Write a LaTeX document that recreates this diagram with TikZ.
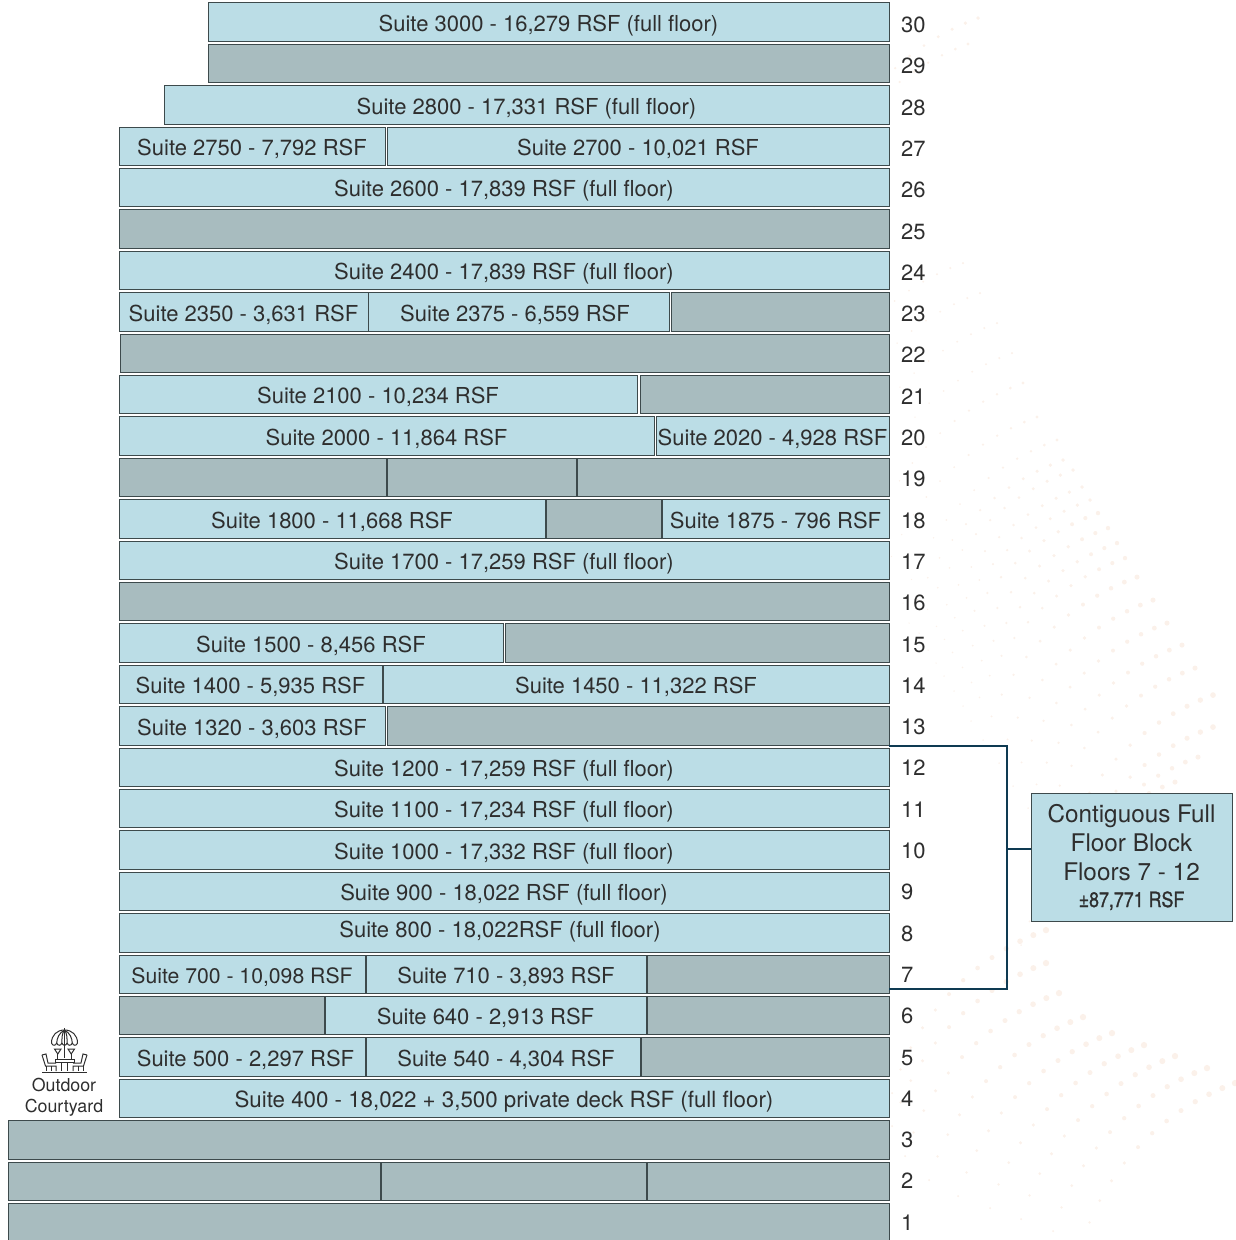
\documentclass[tikz,border=0pt]{standalone}
\usepackage{fontspec}
\setmainfont{TeX Gyre Heros}
\newfontfamily\condfont[FakeStretch=.85,FakeBold=1.2]{TeX Gyre Heros}
\usepackage{tikz}
\usetikzlibrary{positioning, calc}
\definecolor{suiteblue}{HTML}{BBDDE6}
\definecolor{floorgrey}{HTML}{A8BCBF}
\definecolor{edgegrey}{HTML}{3D4A4C}
\definecolor{inkgrey}{HTML}{2E2E2E}
\definecolor{navyline}{HTML}{0E3A52}
\definecolor{dotpeach}{HTML}{FBF1EA}
\tikzset{
  floorbox/.style={rectangle, draw=edgegrey, line width=.8pt, outer sep=0pt, inner sep=0pt,
    minimum height=38.5pt, text=inkgrey, font=\fontsize{22}{26}\selectfont, text height=18.5pt, text depth=0pt},
  suite/.style={floorbox, fill=suiteblue},
  vacant/.style={floorbox, fill=floorgrey},
  suitetext/.style={inner sep=0pt, text=inkgrey, font=\fontsize{22}{26}\selectfont, text height=18.5pt, text depth=0pt},
  flrnum/.style={anchor=west, inner sep=0pt, text=inkgrey, font=\fontsize{22}{26}\selectfont, text height=17pt, text depth=0pt},
  bracketline/.style={draw=navyline, line width=2.9pt},
  iconline/.style={draw=inkgrey, line width=1pt},
  bgdot/.style={fill=dotpeach}
}
% name, left, right, floor, style, text
\newcommand{\suitebox}[6]{%
  \pgfmathsetmacro\boxcx{(#2+#3)/2}%
  \pgfmathsetmacro\boxw{#3-#2}%
  \pgfmathsetmacro\boxcy{22+(30-#4)*41.4}%
  \node[#5, minimum width=\boxw pt] (#1) at (\boxcx,\boxcy) {#6};%
}
\begin{document}
\begin{tikzpicture}[x=1pt, y=-1pt]
\useasboundingbox (0,0) rectangle (1236,1240);
% faint dots behind everything
\begin{scope}
\clip (0,0) rectangle (1236,1240);
\foreach \ex/\ey/\s in {1046/930/1, 1046/963/1, 1059/993/1, 1083/1017/1, 1112/1033/1, 1144/1045/1, 1175/1056/1, 1207/1068/1, 1235/1083/1,
    1213/727/.9, 1198/757/.8, 1175/782/.8, 1213/695/.9, 1195/668/.8, 1182/645/.8, 1167/623/.8, 1153/600/.8, 1137/577/.8,
    1125/558/.7, 1117/543/.7, 1108/528/.7, 1098/513/.7, 1090/500/.6, 1082/487/.6, 1073/470/.6, 1063/460/.6, 1057/440/.5,
    1037/417/.5, 1023/383/.5, 1012/353/.4, 997/323/.4, 980/293/.4, 963/263/.4, 978/18/.6, 968/44/.5}{
  \foreach \i in {0,...,12}{
    \pgfmathsetmacro\ang{20+\i*3+\i*\i*.12}
    \pgfmathsetmacro\px{\ex+85.5-250*sin(\ang)}
    \pgfmathsetmacro\py{\ey+235-250*cos(\ang)}
    \pgfmathsetmacro\rr{\s*(3.2-\i*.17)}
    \fill[bgdot] (\px,\py) circle (\rr);
  }
}
\end{scope}
% floors
\suitebox{f30}{208}{889}{30}{suite}{Suite 3000 - 16,279 RSF (full floor)}
\suitebox{f29}{208}{889}{29}{vacant}{}
\suitebox{f28}{164}{889}{28}{suite}{Suite 2800 - 17,331 RSF (full floor)}
\suitebox{f27a}{119}{385}{27}{suite}{Suite 2750 - 7,792 RSF}
\suitebox{f27b}{387}{889}{27}{suite}{Suite 2700 - 10,021 RSF}
\suitebox{f26}{119}{889}{26}{suite}{Suite 2600 - 17,839 RSF (full floor)}
\suitebox{f25}{119}{889}{25}{vacant}{}
\suitebox{f24}{119}{889}{24}{suite}{Suite 2400 - 17,839 RSF (full floor)}
\suitebox{f23b}{368}{669}{23}{suite}{}
\suitebox{f23a}{119}{368}{23}{suite}{Suite 2350 - 3,631 RSF}
\suitebox{f23c}{671}{889}{23}{vacant}{}
\node[suitetext] (t2375) at (515,312) {Suite 2375 - 6,559 RSF};
\suitebox{f22}{120}{889}{22}{vacant}{}
\suitebox{f21a}{119}{637}{21}{suite}{Suite 2100 - 10,234 RSF}
\suitebox{f21b}{640}{889}{21}{vacant}{}
\suitebox{f20a}{119}{654}{20}{suite}{Suite 2000 - 11,864 RSF}
\suitebox{f20b}{656}{889}{20}{suite}{Suite 2020 - 4,928 RSF}
\suitebox{f19a}{119}{386}{19}{vacant}{}
\suitebox{f19b}{387}{576}{19}{vacant}{}
\suitebox{f19c}{577}{889}{19}{vacant}{}
\suitebox{f18a}{119}{545}{18}{suite}{Suite 1800 - 11,668 RSF}
\suitebox{f18b}{546}{661}{18}{vacant}{}
\suitebox{f18c}{662}{889}{18}{suite}{Suite 1875 - 796 RSF}
\suitebox{f17}{119}{889}{17}{suite}{Suite 1700 - 17,259 RSF (full floor)}
\suitebox{f16}{119}{889}{16}{vacant}{}
\suitebox{f15a}{119}{503}{15}{suite}{Suite 1500 - 8,456 RSF}
\suitebox{f15b}{505}{889}{15}{vacant}{}
\suitebox{f14a}{119}{382}{14}{suite}{Suite 1400 - 5,935 RSF}
\suitebox{f14b}{383}{889}{14}{suite}{Suite 1450 - 11,322 RSF}
\suitebox{f13a}{119}{385}{13}{suite}{Suite 1320 - 3,603 RSF}
\suitebox{f13b}{387}{889}{13}{vacant}{}
\suitebox{f12}{119}{889}{12}{suite}{Suite 1200 - 17,259 RSF (full floor)}
\suitebox{f11}{119}{889}{11}{suite}{Suite 1100 - 17,234 RSF (full floor)}
\suitebox{f10}{119}{889}{10}{suite}{Suite 1000 - 17,332 RSF (full floor)}
\suitebox{f9}{119}{889}{9}{suite}{Suite 900 - 18,022 RSF (full floor)}
\suitebox{f8}{119}{889}{8}{suite}{}
\node[suitetext] (t800) at (500,928) {Suite 800 - 18,022RSF (full floor)};
\suitebox{f7a}{119}{365}{7}{suite}{\fontsize{21.2}{26}\selectfont Suite 700 - 10,098 RSF}
\suitebox{f7b}{366}{646}{7}{suite}{Suite 710 - 3,893 RSF}
\suitebox{f7c}{647}{889}{7}{vacant}{}
\suitebox{f6a}{119}{324}{6}{vacant}{}
\suitebox{f6b}{325}{646}{6}{suite}{Suite 640 - 2,913 RSF}
\suitebox{f6c}{647}{889}{6}{vacant}{}
\suitebox{f5a}{119}{365}{5}{suite}{}
\suitebox{f5b}{366}{640}{5}{suite}{}
\suitebox{f5c}{641}{889}{5}{vacant}{}
\node[suitetext] (t500) at (245.5,1057) {Suite 500 - 2,297 RSF};
\node[suitetext] (t540) at (506,1057) {Suite 540 - 4,304 RSF};
\suitebox{f4}{119}{889}{4}{suite}{\fontsize{22.3}{26}\selectfont Suite 400 - 18,022 + 3,500 private deck RSF (full floor)}
\suitebox{f3}{8}{889}{3}{vacant}{}
\suitebox{f2a}{8}{380}{2}{vacant}{}
\suitebox{f2b}{381}{646}{2}{vacant}{}
\suitebox{f2c}{647}{889}{2}{vacant}{}
\suitebox{f1}{8}{889}{1}{vacant}{}
% floor numbers
\foreach \n in {1,...,30}{
  \pgfmathsetmacro\ny{24+(30-\n)*41.3}
  \node[flrnum] (n\n) at (901,\ny) {\n};
}
% block callout
\node[rectangle, draw=edgegrey, fill=suiteblue, line width=.8pt, outer sep=0pt, minimum width=201pt, minimum height=128pt,
  align=center, text=inkgrey, font=\fontsize{24.3}{29}\selectfont] (block) at (1131.5,857)
  {Contiguous Full\\Floor Block\\Floors 7 - 12\\[-2pt]{\condfont\fontsize{21}{26}\selectfont ±87,771 RSF}};
\coordinate (brtop) at (889,746);
\coordinate (brbot) at (889,989);
\coordinate (brmid) at (1007,849);
\draw[bracketline] (brtop) -- (1007,746) -- (1007,989) -- (brbot);
\draw[bracketline] (brmid) -- (brmid -| block.west);
% courtyard
\node[align=center, inner sep=0pt, text=inkgrey, font=\fontsize{17.8}{21}\selectfont] (yard) at (64,1097.5) {Outdoor\\Courtyard};
\draw[iconline] (51.5,1043) .. controls (51.5,1035) and (57,1030) .. (64.5,1030) .. controls (72,1030) and (77.5,1035) .. (77.5,1043);
\foreach \x in {51.5,56.7,61.9,67.1,72.3}{
  \draw[iconline] (\x,1043) .. controls (\x+1,1046) and (\x+4.2,1046) .. (\x+5.2,1043);
}
\draw[iconline] (64.5,1028) -- (64.5,1058);
\draw[iconline] (64.5,1030) .. controls (59,1033) and (57,1038) .. (56.7,1043);
\draw[iconline] (64.5,1030) .. controls (70,1033) and (72,1038) .. (72.3,1043);
\draw[iconline] (64.5,1030) .. controls (62,1033) and (61.9,1038) .. (61.9,1043);
\draw[iconline] (64.5,1030) .. controls (67,1033) and (67.1,1038) .. (67.1,1043);
\draw[iconline] (54.5,1049) -- (61,1049) -- (57.8,1054) -- cycle;
\draw[iconline] (68,1049) -- (74.5,1049) -- (71.2,1054) -- cycle;
\draw[iconline] (57.8,1054) -- (57.8,1059);
\draw[iconline] (71.2,1054) -- (71.2,1059);
\draw[iconline] (55,1059.5) rectangle (74,1062);
\draw[iconline] (61.5,1062) -- (61.5,1071);
\draw[iconline] (67.5,1062) -- (67.5,1071);
\draw[iconline] (42,1055) -- (45.5,1066) -- (56,1066) -- (56,1071);
\draw[iconline] (42,1055) -- (46,1054) -- (48,1063) -- (56,1063);
\draw[iconline] (46,1066) -- (46,1071);
\draw[iconline] (51,1066) -- (51,1071);
\draw[iconline] (87,1055) -- (83.5,1066) -- (73,1066) -- (73,1071);
\draw[iconline] (87,1055) -- (83,1054) -- (81,1063) -- (73,1063);
\draw[iconline] (83,1066) -- (83,1071);
\draw[iconline] (78,1066) -- (78,1071);
\draw[iconline] (42,1072) -- (87,1072);
\end{tikzpicture}
\end{document}
